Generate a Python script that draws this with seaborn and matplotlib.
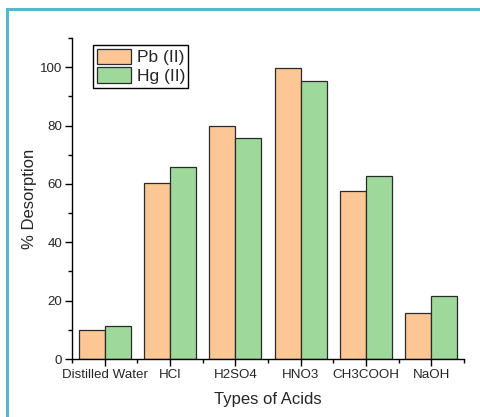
import pandas as pd
import numpy as np
import seaborn as sns
import matplotlib.pyplot as plt
from matplotlib.patches import Rectangle
from matplotlib.ticker import MultipleLocator, FixedLocator

acids = ["Distilled Water", "HCl", "H2SO4", "HNO3", "CH3COOH", "NaOH"]
pb_values = [9.8, 60.2, 79.8, 99.8, 57.6, 15.7]
hg_values = [11.2, 65.9, 75.7, 95.4, 62.6, 21.6]
metals = ["Pb (II)", "Hg (II)"]

df = pd.DataFrame({
    "acid": acids * 2,
    "desorption": pb_values + hg_values,
    "metal": [metals[0]] * len(acids) + [metals[1]] * len(acids),
})

sns.set_style("ticks")
plt.rcParams["font.family"] = ["Liberation Sans", "DejaVu Sans"]

fig = plt.figure(figsize=(4.81, 4.17), dpi=100)
ax = fig.add_axes([0.1497, 0.139, 0.815, 0.7699])

sns.barplot(data=df, x="acid", y="desorption", hue="metal", order=acids,
            palette=["#fdc695", "#9fd89b"], saturation=1, edgecolor="#2a2a2a",
            linewidth=0.9, width=0.8, gap=0, ax=ax)

ax.set_xlim(-0.5, 5.5)
ax.set_ylim(0, 110)
ax.yaxis.set_major_locator(MultipleLocator(20))
ax.yaxis.set_minor_locator(FixedLocator([10, 30, 50, 70, 90, 110]))
ax.xaxis.set_minor_locator(FixedLocator(np.arange(-0.5, 6, 1)))
sns.despine(ax=ax)
for s in ["left", "bottom"]:
    ax.spines[s].set_linewidth(1.0)
    ax.spines[s].set_color("black")
ax.tick_params(which="major", length=5, width=1, color="black", labelsize=9.6, pad=2)
ax.tick_params(which="minor", length=3, width=1, color="black")

ax.set_xlabel("Types of Acids", fontsize=12, labelpad=8)
ax.set_ylabel("% Desorption", fontsize=12, labelpad=2)

leg = ax.legend(loc="upper left", bbox_to_anchor=(0.054, 0.978), fontsize=12.5,
                frameon=True, fancybox=False, edgecolor="black", framealpha=1,
                handlelength=2.0, handleheight=1.0, labelspacing=0.12,
                borderpad=0.2, handletextpad=0.3, borderaxespad=0)
leg.get_frame().set_linewidth(1.0)

fig.patches.append(Rectangle((7 / 481, -0.1), 1.2, 1 - 9 / 417 + 0.1,
                             transform=fig.transFigure, fill=False,
                             edgecolor="#5bb5d0", linewidth=2.2))

fig.savefig("out.png", dpi=100)
